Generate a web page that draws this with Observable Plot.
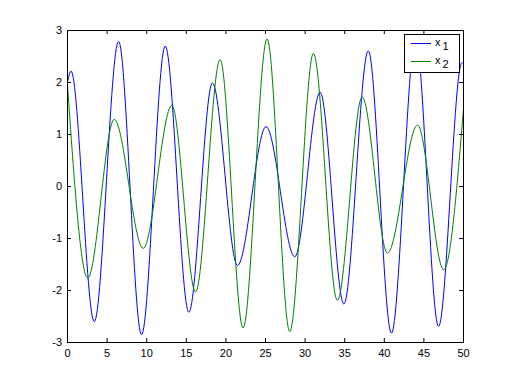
<!DOCTYPE html>
<html><head><meta charset="utf-8">
<script src="https://cdn.jsdelivr.net/npm/d3@7"></script>
<script src="https://cdn.jsdelivr.net/npm/@observablehq/plot@0.6"></script>
<style>
body{margin:0;background:#fff}
#wrap{position:relative;width:512px;height:384px;background:#fff}
#legend{position:absolute;left:404px;top:34px}
</style>
</head><body><div id="wrap"></div>
<script>
// series x1 (blue): time of sample and value (extrema)
const x1T = [0, 0.44, 3.38, 6.45, 9.35, 12.34, 15.32, 18.3, 21.46, 25.07, 28.7, 31.9, 34.9, 37.98, 40.9, 43.95, 46.85, 49.8, 50];
const x1V = [2.0, 2.22, -2.60, 2.79, -2.85, 2.70, -2.42, 1.99, -1.52, 1.15, -1.35, 1.81, -2.26, 2.61, -2.82, 2.85, -2.69, 2.38, 2.37];
// series x2 (green)
const x2T = [0, 2.55, 5.9, 9.56, 13.18, 16.17, 19.27, 22.17, 25.2, 28.06, 31.05, 34.07, 37.2, 40.4, 44.2, 47.5, 50];
const x2V = [1.95, -1.76, 1.29, -1.19, 1.56, -2.03, 2.44, -2.72, 2.84, -2.79, 2.56, -2.19, 1.72, -1.28, 1.18, -1.60, 1.5];

const seriesNames = ["x1", "x2"];
const seriesColors = ["#0000ff", "#008000"];
const xTicks = [0, 5, 10, 15, 20, 25, 30, 35, 40, 45, 50];
const yTicks = [-3, -2, -1, 0, 1, 2, 3];

const rows1 = x1T.map((t, i) => ({t, v: x1V[i], s: seriesNames[0]}));
const rows2 = x2T.map((t, i) => ({t, v: x2V[i], s: seriesNames[1]}));

const W = 512, H = 384, mt = 30, mb = 42, ml = 67, mr = 49;
const ph = H - mt - mb, pw = W - ml - mr;
const tl = 4;

const chart = Plot.plot({
  width: W, height: H,
  marginTop: mt, marginBottom: mb, marginLeft: ml, marginRight: mr,
  style: {fontFamily: "'Liberation Sans', Arial, sans-serif", fontSize: "11px", background: "white", color: "black"},
  x: {domain: [0, 50]},
  y: {domain: [-3, 3]},
  marks: [
    Plot.lineY(rows1, {x: "t", y: "v", curve: "monotone-x", stroke: seriesColors[0], strokeWidth: 1}),
    Plot.lineY(rows2, {x: "t", y: "v", curve: "monotone-x", stroke: seriesColors[1], strokeWidth: 1}),
    Plot.axisX(xTicks, {tickSize: 0, tickPadding: 6.5, label: null, fill: "black", tickFormat: d => String(d)}),
    Plot.axisY(yTicks, {tickSize: 0, tickPadding: 5.5, label: null, fill: "black", tickFormat: d => String(d)}),
    Plot.tickX(xTicks, {x: d => d, insetTop: ph - tl, stroke: "black"}),
    Plot.tickX(xTicks, {x: d => d, insetBottom: ph - tl, stroke: "black"}),
    Plot.tickY(yTicks, {y: d => d, insetRight: pw - tl, stroke: "black"}),
    Plot.tickY(yTicks, {y: d => d, insetLeft: pw - tl, stroke: "black"}),
    Plot.frame({stroke: "black"})
  ]
});
const wrap = document.getElementById("wrap");
wrap.appendChild(chart);

// legend
const ns = "http://www.w3.org/2000/svg";
const lg = document.createElementNS(ns, "svg");
lg.setAttribute("id", "legend");
lg.setAttribute("width", 56);
lg.setAttribute("height", 40);
lg.innerHTML = `
<rect x="0.5" y="0.5" width="55" height="38" fill="white" stroke="black"/>
${seriesNames.map((n, i) => `
<line x1="7" x2="27" y1="${9.5 + i * 18}" y2="${9.5 + i * 18}" stroke="${seriesColors[i]}" stroke-width="1"/>
<text x="31" y="${11.5 + i * 18}" font-family="'Liberation Sans', Arial, sans-serif" font-size="11" fill="black">${n[0]}<tspan dx="2" dy="4">${n.slice(1)}</tspan></text>`).join("")}
`;
wrap.appendChild(lg);
</script>
</body></html>
